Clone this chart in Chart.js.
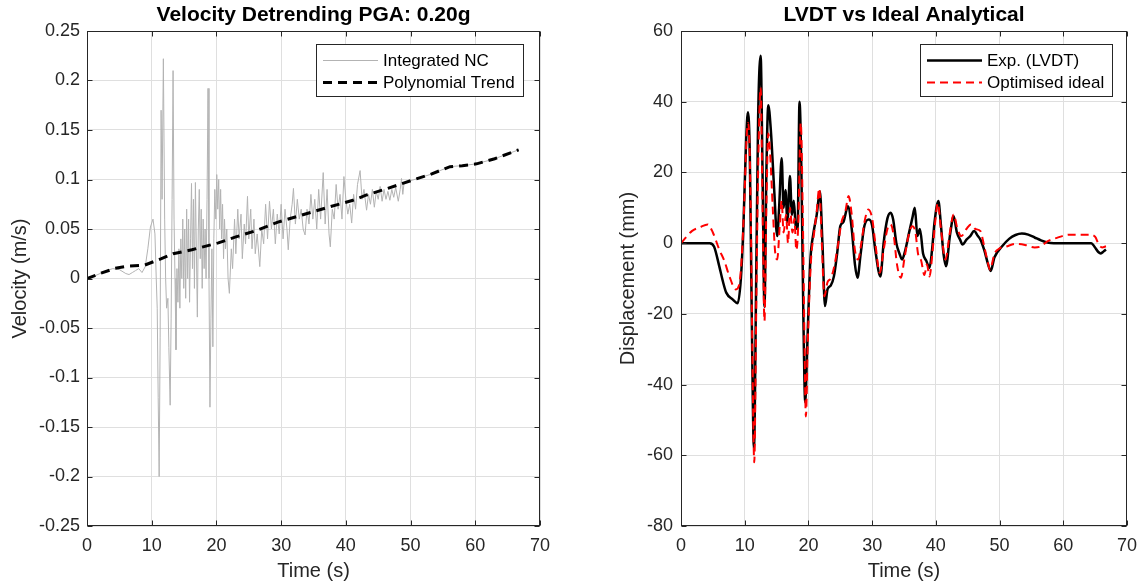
<!DOCTYPE html>
<html><head><meta charset="utf-8">
<script src="https://cdn.jsdelivr.net/npm/chart.js@4"></script>
<style>
html,body{margin:0;padding:0;background:#fff;}
#wrap{position:relative;width:1146px;height:584px;background:#fff;overflow:hidden;}
canvas{position:absolute;top:0;}
#c1{left:0}
#c2{left:573px}
</style></head><body>
<div id="wrap"><canvas id="c1" width="573" height="584"></canvas><canvas id="c2" width="573" height="584"></canvas></div>
<script>
// ---------- data ----------
const xTicks = [0, 10, 20, 30, 40, 50, 60, 70];
const velTicks = [-0.25, -0.2, -0.15, -0.1, -0.05, 0, 0.05, 0.1, 0.15, 0.2, 0.25];
const dispTicks = [-80, -60, -40, -20, 0, 20, 40, 60];

const ncTime = [
  0, 1, 2, 3, 4, 5, 6, 6.5, 7, 7.5,
  8, 8.5, 9, 9.4, 9.8, 10.2, 10.5, 10.7, 10.85, 11.0,
  11.15, 11.3, 11.45, 11.6, 11.8, 12.0, 12.15, 12.3, 12.5, 12.65,
  12.85, 13.0, 13.15, 13.3, 13.45, 13.6, 13.75, 13.9, 14.05, 14.2,
  14.35, 14.5, 14.65, 14.8, 14.95, 15.1, 15.25, 15.4, 15.55, 15.7,
  15.85, 16.0, 16.15, 16.3, 16.45, 16.6, 16.75, 16.9, 17.05, 17.2,
  17.35, 17.5, 17.65, 17.8, 17.95, 18.1, 18.25, 18.4, 18.55, 18.7,
  18.85, 19.0, 19.15, 19.3, 19.45, 19.6, 19.75, 19.9, 20.05, 20.2,
  20.35, 20.5, 20.65, 20.8, 20.95, 21.1, 21.25, 21.4, 21.6, 21.8,
  22.0, 22.3, 22.5, 22.8, 23.0, 23.3, 23.5, 23.8, 24.0, 24.3,
  24.5, 24.8, 25.0, 25.3, 25.5, 25.8, 26.0, 26.3, 26.7, 27.0,
  27.3, 27.6, 27.9, 28.2, 28.5, 28.8, 29.1, 29.4, 29.7, 30.0,
  30.3, 30.6, 30.9, 31.1, 31.4, 31.7, 31.9, 32.2, 32.5, 32.8,
  33.1, 33.4, 33.7, 34.0, 34.3, 34.6, 34.9, 35.2, 35.5, 35.8,
  36.1, 36.5, 36.8, 37.1, 37.4, 37.6, 37.9, 38.2, 38.5, 38.8,
  39.1, 39.4, 39.7, 40.0, 40.3, 40.6, 40.9, 41.2, 41.5, 41.8,
  42.2, 42.5, 42.8, 43.2, 43.5, 43.8, 44.1, 44.4, 44.7, 45.0,
  45.3, 45.6, 45.9, 46.2, 46.5, 46.8, 47.1, 47.4, 47.7, 48.1,
  48.4, 48.6, 48.8, 49.0, 50.4, 53.0, 56.1, 58.0, 60.2, 63.0,
  66.7
];
const ncVel = [
  0, 0.002, 0.005, 0.008, 0.010, 0.009, 0.005, 0.004, 0.006, 0.008,
  0.010, 0.006, 0.012, 0.030, 0.052, 0.060, 0.045, 0.000, -0.030, -0.120,
  -0.200, -0.060, 0.170, 0.080, 0.222, 0.060, 0.000, -0.030, -0.020, -0.070,
  -0.128, -0.040, 0.080, 0.210, 0.060, 0.000, -0.072, 0.010, -0.024, 0.030,
  -0.030, 0.040, 0.000, 0.060, -0.010, 0.050, -0.020, 0.070, 0.000, 0.060,
  -0.024, 0.040, 0.096, 0.010, 0.080, -0.010, 0.097, 0.030, -0.039, 0.050,
  0.090, 0.020, 0.070, -0.010, 0.060, 0.010, 0.050, 0.000, 0.080, 0.192,
  0.000, -0.130, -0.040, 0.030, -0.069, 0.040, 0.090, 0.060, 0.105, 0.070,
  0.100, 0.050, 0.090, 0.040, 0.075, 0.020, 0.060, 0.030, 0.050, 0.000,
  -0.015, 0.030, 0.010, 0.060, 0.025, 0.070, 0.040, 0.065, 0.020, 0.055,
  0.035, 0.083, 0.040, 0.070, 0.030, 0.060, 0.025, 0.045, 0.012, 0.050,
  0.035, 0.075, 0.040, 0.078, 0.050, 0.070, 0.035, 0.065, 0.045, 0.075,
  0.040, 0.070, 0.050, 0.029, 0.060, 0.075, 0.091, 0.055, 0.080, 0.060,
  0.070, 0.050, 0.044, 0.070, 0.055, 0.085, 0.060, 0.080, 0.050, 0.090,
  0.060, 0.107, 0.055, 0.090, 0.045, 0.032, 0.070, 0.060, 0.095, 0.070,
  0.085, 0.060, 0.103, 0.080, 0.065, 0.075, 0.056, 0.085, 0.070, 0.095,
  0.109, 0.080, 0.090, 0.069, 0.085, 0.075, 0.090, 0.072, 0.088, 0.080,
  0.093, 0.078, 0.090, 0.080, 0.088, 0.079, 0.090, 0.082, 0.092, 0.078,
  0.090, 0.101, 0.085, 0.097, 0.0996, 0.105, 0.113, 0.114, 0.1158, 0.121,
  0.130
];

const trendTime = [0, 2, 4.3, 6.4, 8.9, 11.5, 13.3, 16.2, 20.3, 23, 26.4, 29.5, 32.4, 37.6, 41.1, 43.2, 46, 50.4, 53, 56.1, 58, 60.2, 63, 66.7];
const trendVel  = [0, 0.005, 0.0102, 0.0125, 0.0135, 0.020, 0.025, 0.029, 0.036, 0.042, 0.049, 0.057, 0.0625, 0.0726, 0.079, 0.0844, 0.090, 0.0996, 0.105, 0.113, 0.114, 0.1158, 0.121, 0.130];

const lvdtTime = [
  0, 4.5, 5.2, 6.0, 6.6, 7.1, 8.1, 8.9, 9.4, 9.8,
  10.2, 10.5, 10.8, 11.1, 11.45, 11.8, 12.1, 12.5, 12.8, 13.1,
  13.4, 13.7, 14.1, 14.6, 15.1, 15.4, 15.8, 16.1, 16.4, 16.7,
  17.1, 17.4, 17.7, 18.0, 18.3, 18.6, 18.9, 19.2, 19.5, 19.8,
  20.3, 20.8, 21.3, 21.8, 22.2, 22.6, 23.0, 23.5, 24.0, 24.5,
  25.0, 25.5, 26.2, 26.8, 27.3, 27.7, 28.2, 28.8, 29.5, 30.0,
  30.5, 31.3, 31.8, 32.4, 32.9, 33.3, 33.8, 34.3, 34.7, 35.2,
  35.8, 36.3, 36.7, 37.1, 37.5, 38.0, 38.5, 39.0, 39.4, 39.8,
  40.4, 40.8, 41.2, 41.6, 42.2, 42.8, 43.3, 43.8, 44.2, 44.8,
  45.4, 46.0, 46.6, 47.0, 47.6, 48.2, 48.6, 49.2, 50.4, 51.5,
  52.5, 53.5, 54.5, 55.5, 56.5, 57.5, 58.5, 64.4, 64.9, 65.5,
  65.9, 66.3, 66.7
];
const lvdtDisp = [
  0, 0, -1, -6.5, -11, -14, -15.9, -17, -10, 5,
  28, 37, 25, -20, -58, -10, 35, 53, 20, -18,
  20, 39, 32, 16, 2, 10, 24, 10, 15, 6,
  19, 8, 12, 5, 4, 40, 20, -20, -45, -30,
  -5, 3, 8, 14.7, 0, -17.8, -13, -12, -9.4, -3,
  4.8, 6, 10.4, 4, -6, -9.8, -3, 5, 6.7, 5,
  -2, -9.4, 0, 7, 8.6, 6.7, 0, -3, -4.6, -2,
  3, 7, 10, 2, 4, -3, -5, -7, -2, 6,
  11.9, 5, -3, -6.5, 2, 7.6, 3, 1, -0.4, 1,
  2, 3.4, 2, 1, -2, -6, -7.9, -4, -0.9, 1.2,
  2.3, 2.7, 2.4, 1.6, 0.8, 0.2, 0, 0, -1, -2.5,
  -2.9, -2.4, -1.8
];

const idealTime = [
  0, 1.7, 3.0, 4.2, 5.0, 6.0, 6.8, 7.6, 8.6, 9.1,
  9.5, 9.9, 10.3, 10.55, 10.9, 11.2, 11.5, 11.8, 12.1, 12.5,
  12.8, 13.1, 13.4, 13.7, 14.0, 14.4, 14.8, 15.1, 15.5, 15.8,
  16.1, 16.5, 16.8, 17.1, 17.5, 17.8, 18.1, 18.4, 18.8, 19.1,
  19.4, 19.6, 19.9, 20.4, 20.9, 21.3, 21.7, 22.1, 22.5, 23.0,
  23.5, 24.0, 24.6, 25.2, 25.8, 26.3, 26.8, 27.3, 27.8, 28.3,
  28.8, 29.4, 30.0, 30.5, 31.2, 31.8, 32.4, 32.9, 33.4, 33.9,
  34.5, 35.1, 35.7, 36.3, 36.8, 37.2, 37.7, 38.2, 38.6, 39.0,
  39.5, 39.9, 40.3, 40.8, 41.5, 42.2, 42.8, 43.4, 44.0, 44.8,
  45.5, 46.2, 47.0, 47.6, 48.1, 48.5, 49.2, 50.0, 51.0, 52.5,
  54.0, 55.5, 56.5, 57.5, 59.0, 61.0, 64.0, 65.0, 65.6, 66.1,
  66.7
];
const idealDisp = [
  0, 3.4, 4.5, 5.3, 3, -1.8, -5, -9.4, -13.1, -12,
  -5, 10, 30, 34, 15, -30, -62, -20, 20, 44,
  10, -22, 10, 31, 25, 10, -3, -4.6, 5, 12,
  3, 8, 0, 10, 3, 7, -2, 5, 34, 10,
  -30, -49, -28, -5, 3, 9, 15.5, 0, -15, -11,
  -10, -7, -1, 6, 9, 13.3, 8, -2, -4.6, 0,
  6, 9.5, 7, 0, -8.4, -2, 4, 5.3, 2, -6,
  -9.8, -4, 2, 4.8, 3, -3, -5, -9, -6, -9.4,
  -2, 6, 11.3, 4, -4.6, 3, 8.1, 4, 2, 4,
  5.3, 4, 3.4, -1, -5, -7.5, -3, -1.5, -1, -0.2,
  -0.5, -1.2, -0.9, 0.5, 1.5, 2.4, 2.4, 1.8, -0.5, -1.2,
  -0.9
];

// ---------- helpers ----------
const FONT = '"Liberation Sans", Arial, Helvetica, sans-serif';
const AX = '#262626';
const GRID = '#dfdfdf';
const pts = (xs, ys) => xs.map((x, i) => ({x: x, y: ys[i]}));

const framePlugin = {
  id: 'frame',
  afterDatasetsDraw(chart, args, opts) {
    const ctx = chart.ctx, a = chart.chartArea;
    const xs = chart.scales.x, ys = chart.scales.y;
    const L = Math.round(a.left) + 0.5, R = Math.round(a.right) - 0.5;
    const T = Math.round(a.top) + 0.5, B = Math.round(a.bottom) - 0.5;
    ctx.save();
    ctx.strokeStyle = AX; ctx.lineWidth = 1; ctx.setLineDash([]);
    ctx.beginPath();
    xs.ticks.forEach(t => {
      const p = Math.round(xs.getPixelForValue(t.value)) + 0.5;
      ctx.moveTo(p, B); ctx.lineTo(p, B - 5);
      ctx.moveTo(p, T); ctx.lineTo(p, T + 5);
    });
    ys.ticks.forEach(t => {
      const p = Math.round(ys.getPixelForValue(t.value)) + 0.5;
      ctx.moveTo(L, p); ctx.lineTo(L + 5, p);
      ctx.moveTo(R, p); ctx.lineTo(R - 5, p);
    });
    ctx.stroke();
    ctx.strokeRect(L, T, R - L, B - T);

    // legend box (MATLAB style, inside top-right)
    const items = chart.data.datasets;
    ctx.font = '17px ' + FONT;
    const tw = Math.max(...items.map(d => ctx.measureText(d.label).width));
    const lineLen = 55, padL = 7, gap = 5, padR = 8, h = 52;
    const w = Math.round(padL + lineLen + gap + tw + padR);
    const right = Math.round(a.right - opts.inset);
    const top = Math.round(a.top + 13);
    const left = right - w;
    ctx.fillStyle = '#fff';
    ctx.fillRect(left, top, w, h);
    ctx.strokeStyle = AX; ctx.lineWidth = 1;
    ctx.strokeRect(left + 0.5, top + 0.5, w, h);
    items.forEach((d, i) => {
      const cy = top + 16.5 + i * 22;
      ctx.beginPath();
      ctx.setLineDash(d.borderDash || []);
      ctx.strokeStyle = d.borderColor; ctx.lineWidth = d.borderWidth;
      ctx.moveTo(left + padL, cy); ctx.lineTo(left + padL + lineLen, cy);
      ctx.stroke();
      ctx.setLineDash([]);
      ctx.fillStyle = '#000'; ctx.textBaseline = 'middle'; ctx.textAlign = 'left';
      ctx.fillText(d.label, left + padL + lineLen + gap, cy + 1);
    });
    ctx.restore();
  }
};

function makeOptions(cfg) {
  return {
    responsive: false, animation: false, devicePixelRatio: 1,
    layout: {padding: {left: 0, right: cfg.padRight, top: 0, bottom: 0}},
    elements: {point: {radius: 0}},
    plugins: {
      legend: {display: false},
      tooltip: {enabled: false},
      title: {display: true, text: cfg.title, fullSize: false, color: '#000',
        font: {family: FONT, size: 21, weight: 'bold'}, padding: {top: 3, bottom: 2.8}},
      frame: {inset: cfg.inset}
    },
    scales: {
      x: {
        type: 'linear', min: 0, max: 70,
        afterBuildTicks: s => { s.ticks = xTicks.map(v => ({value: v})); },
        afterFit: s => { s.height = 58; },
        ticks: {font: {family: FONT, size: 18}, color: AX, padding: 9, maxRotation: 0, autoSkip: false},
        grid: {color: GRID, drawTicks: false},
        border: {display: false},
        title: {display: true, text: 'Time (s)', color: AX, font: {family: FONT, size: 20}, padding: {top: 0, bottom: 1}}
      },
      y: {
        type: 'linear', min: cfg.yTicks[0], max: cfg.yTicks[cfg.yTicks.length - 1],
        afterBuildTicks: s => { s.ticks = cfg.yTicks.map(v => ({value: v})); },
        afterFit: s => { s.width = cfg.yWidth; },
        ticks: {font: {family: FONT, size: 18}, color: AX, padding: cfg.tickPad, autoSkip: false,
          callback: v => String(Math.round(v * 100) / 100)},
        grid: {color: GRID, drawTicks: false},
        border: {display: false},
        title: {display: true, text: cfg.yTitle, color: AX, font: {family: FONT, size: 20}, padding: {top: cfg.yTitlePad, bottom: 0}}
      }
    }
  };
}

new Chart(document.getElementById('c1'), {
  type: 'line',
  data: {datasets: [
    {label: 'Integrated NC', data: pts(ncTime, ncVel), borderColor: '#b3b3b3', borderWidth: 1, tension: 0, order: 1},
    {label: 'Polynomial Trend', data: pts(trendTime, trendVel), borderColor: '#000', borderWidth: 3, borderDash: [9, 6], tension: 0, order: 0}
  ]},
  options: makeOptions({title: 'Velocity Detrending PGA: 0.20g', padRight: 33, inset: 17, yTicks: velTicks, yWidth: 87, tickPad: 7, yTitle: 'Velocity (m/s)', yTitlePad: 8}),
  plugins: [framePlugin]
});

new Chart(document.getElementById('c2'), {
  type: 'line',
  data: {datasets: [
    {label: 'Exp. (LVDT)', data: pts(lvdtTime, lvdtDisp), borderColor: '#000', borderWidth: 2.5, cubicInterpolationMode: 'monotone', order: 1},
    {label: 'Optimised ideal', data: pts(idealTime, idealDisp), borderColor: '#ff0000', borderWidth: 2, borderDash: [8, 5], cubicInterpolationMode: 'monotone', order: 0}
  ]},
  options: makeOptions({title: 'LVDT vs Ideal Analytical', padRight: 13, inset: 15, yTicks: dispTicks, yWidth: 108, tickPad: 8, yTitle: 'Displacement (mm)', yTitlePad: 43}),
  plugins: [framePlugin]
});
</script>
</body></html>
